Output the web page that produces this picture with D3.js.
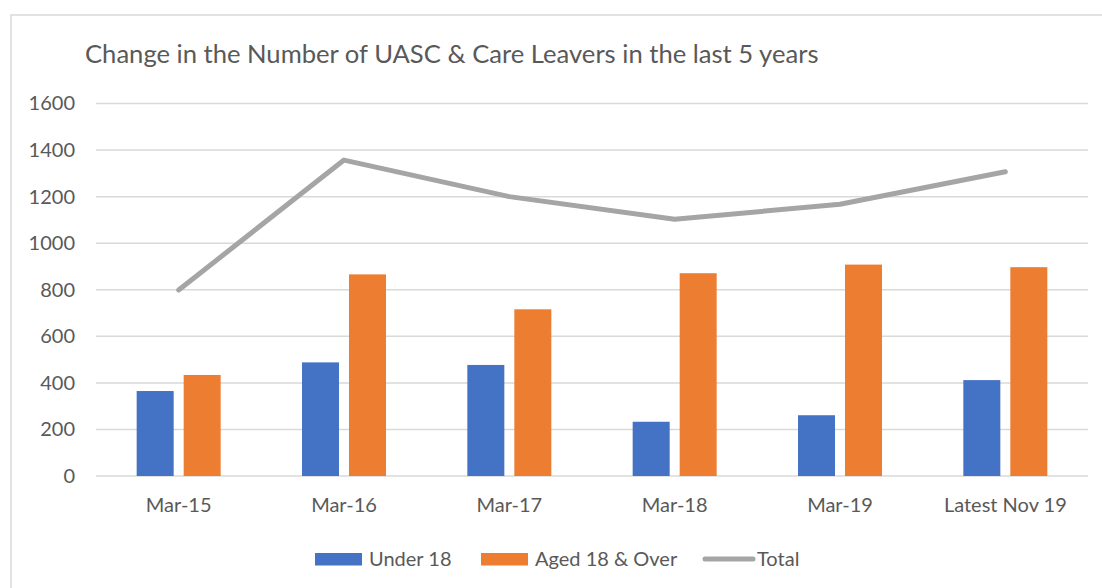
<!DOCTYPE html>
<html>
<head>
<meta charset="utf-8">
<script src="https://cdn.jsdelivr.net/npm/d3@7"></script>
<style>
  body { margin: 0; background: #fff; }
  text { font-family: Lato, "Open Sans", sans-serif; fill: #595959; }
</style>
</head>
<body>
<svg id="chart" width="1102" height="588"></svg>
<script>
// data
const categories = ["Mar-15", "Mar-16", "Mar-17", "Mar-18", "Mar-19", "Latest Nov 19"]
const under18 = [365, 488, 477, 233, 261, 412]
const aged18Over = [434, 866, 716, 871, 908, 897]
const total = [799, 1357, 1200, 1103, 1167, 1307]
const yTicks = [0, 200, 400, 600, 800, 1000, 1200, 1400, 1600]

const blue = "#4472C4", orange = "#ED7D31", grey = "#A5A5A5", gridColour = "#D9D9D9"

const svg = d3.select("#chart")

// outer chart border (runs off the bottom/right like the screenshot)
svg.append("rect")
    .attr("x", 11).attr("y", 15)
    .attr("width", 1200).attr("height", 700)
    .attr("fill", "none")
    .attr("stroke", gridColour)
    .attr("stroke-width", 1.5)

svg.append("text")
    .attr("x", 85).attr("y", 63)
    .style("font-size", "25.6px")
    .text("Change in the Number of UASC & Care Leavers in the last 5 years")

const plotLeft = 96, plotRight = 1088, plotTop = 103.5, plotBottom = 476

const x = d3.scaleBand().domain(categories).range([plotLeft, plotRight])
const y = d3.scaleLinear().domain([0, 1600]).range([plotBottom, plotTop])

// gridlines
svg.append("g")
    .selectAll("line")
    .data(yTicks)
    .join("line")
    .attr("x1", plotLeft).attr("x2", plotRight)
    .attr("y1", d => y(d)).attr("y2", d => y(d))
    .attr("stroke", gridColour)
    .attr("stroke-width", 1.5)

// y axis labels
const yAxis = svg.append("g")
    .attr("transform", "translate(" + 75 + ",0)")
    .call(d3.axisLeft(y).tickValues(yTicks).tickFormat(d3.format("d")).tickSize(0).tickPadding(0))
yAxis.select(".domain").remove()
yAxis.selectAll("text")
    .attr("fill", "#595959")
    .style("font-family", "Lato, sans-serif")
    .style("font-size", "20px")

// x axis labels
const xAxis = svg.append("g")
    .attr("transform", "translate(0," + plotBottom + ")")
    .call(d3.axisBottom(x).tickSize(0).tickPadding(22))
xAxis.select(".domain").remove()
xAxis.selectAll("text")
    .attr("fill", "#595959")
    .style("font-family", "Lato, sans-serif")
    .style("font-size", "20px")

// bars
const barW = 37, barGap = 10
const series = [
    { values: under18, colour: blue, offset: -barGap / 2 - barW },
    { values: aged18Over, colour: orange, offset: barGap / 2 }
]
series.forEach(s => {
    svg.append("g")
        .selectAll("rect")
        .data(s.values)
        .join("rect")
        .attr("x", (d, i) => x(categories[i]) + x.bandwidth() / 2 + s.offset)
        .attr("y", d => y(d))
        .attr("width", barW)
        .attr("height", d => plotBottom - y(d))
        .attr("fill", s.colour)
})

// total line
const line = d3.line()
    .x((d, i) => x(categories[i]) + x.bandwidth() / 2)
    .y(d => y(d))
svg.append("path")
    .datum(total)
    .attr("d", line)
    .attr("fill", "none")
    .attr("stroke", grey)
    .attr("stroke-width", 5)
    .attr("stroke-linecap", "round")
    .attr("stroke-linejoin", "round")

// legend
const legend = svg.append("g").style("font-size", "20px")
const legendItems = [
    { label: "Under 18", colour: blue, kind: "rect", x: 315 },
    { label: "Aged 18 & Over", colour: orange, kind: "rect", x: 481 },
    { label: "Total", colour: grey, kind: "line", x: 703 }
]
legendItems.forEach(item => {
    if (item.kind === "rect") {
        legend.append("rect")
            .attr("x", item.x).attr("y", 553)
            .attr("width", 47).attr("height", 12.5)
            .attr("fill", item.colour)
    } else {
        legend.append("line")
            .attr("x1", item.x + 2).attr("x2", item.x + 50)
            .attr("y1", 559).attr("y2", 559)
            .attr("stroke", item.colour)
            .attr("stroke-width", 5)
            .attr("stroke-linecap", "round")
    }
    legend.append("text")
        .attr("x", item.x + 54)
        .attr("y", 566)
        .text(item.label)
})
</script>
</body>
</html>
